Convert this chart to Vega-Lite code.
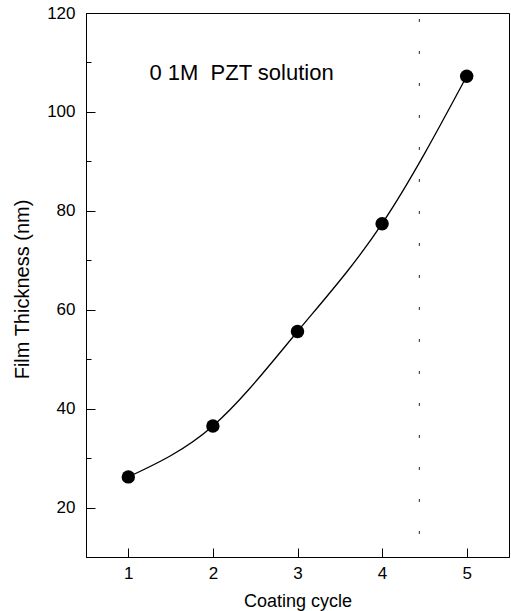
{
  "$schema": "https://vega.github.io/schema/vega-lite/v6.json",
  "width": 423,
  "height": 544,
  "autosize": {"type": "none"},
  "padding": {"left": 86, "top": 13, "right": 2, "bottom": 54},
  "background": "white",
  "config": {
    "view": {"stroke": "black", "strokeWidth": 1},
    "font": "Liberation Sans",
    "axis": {
      "grid": false,
      "domainColor": "black",
      "tickColor": "black",
      "labelColor": "black",
      "titleColor": "black",
      "labelFont": "Liberation Sans",
      "titleFont": "Liberation Sans",
      "titleFontWeight": "normal",
      "labelFontSize": 17
    }
  },
  "resolve": {"axis": {"y": "independent"}},
  "layer": [
    {
      "data": {"values": [{"cycle": 4.44}]},
      "mark": {"type": "rule", "color": "#222", "strokeWidth": 1, "strokeDash": [3, 29], "strokeDashOffset": -6},
      "encoding": {
        "x": {"field": "cycle", "type": "quantitative", "scale": {"domain": [0.5, 5.5], "nice": false, "zero": false}}
      }
    },
    {
      "data": {
        "values": [
          {"cycle": 1, "thickness": 26.2},
          {"cycle": 2, "thickness": 36.5},
          {"cycle": 3, "thickness": 55.6},
          {"cycle": 4, "thickness": 77.4},
          {"cycle": 5, "thickness": 107.2}
        ]
      },
      "encoding": {
        "x": {
          "field": "cycle",
          "type": "quantitative",
          "scale": {"domain": [0.5, 5.5], "nice": false, "zero": false},
          "axis": {
            "values": [1, 2, 3, 4, 5],
            "title": "Coating cycle",
            "titleFontSize": 18,
            "titleBaseline": "alphabetic",
            "titleY": 49,
            "tickSize": -9,
            "labelPadding": 17,
            "format": "d"
          }
        },
        "y": {
          "field": "thickness",
          "type": "quantitative",
          "scale": {"domain": [10, 120], "nice": false, "zero": false},
          "axis": {
            "orient": "left",
            "values": [20, 40, 60, 80, 100, 120],
            "tickSize": -9,
            "labelPadding": 20,
            "title": "Film Thickness (nm)",
            "titleFontSize": 20,
            "titleBaseline": "middle",
            "titleX": -64,
            "titleY": 276
          }
        }
      },
      "layer": [
        {"mark": {"type": "line", "interpolate": "natural", "color": "black", "strokeWidth": 1.3}},
        {"mark": {"type": "point", "shape": "circle", "filled": true, "color": "black", "opacity": 1, "size": 180}}
      ]
    },
    {
      "data": {"values": [{"cycle": 1.25, "thickness": 106.4, "label": "0 1M\u00a0\u00a0PZT solution"}]},
      "mark": {"type": "text", "align": "left", "baseline": "alphabetic", "fontSize": 22, "color": "black", "font": "Liberation Sans"},
      "encoding": {
        "x": {"field": "cycle", "type": "quantitative"},
        "y": {
          "field": "thickness",
          "type": "quantitative",
          "axis": {
            "orient": "left",
            "values": [30, 50, 70, 90, 110],
            "labels": false,
            "domain": false,
            "tickSize": -5,
            "title": null
          }
        },
        "text": {"field": "label"}
      }
    }
  ]
}
